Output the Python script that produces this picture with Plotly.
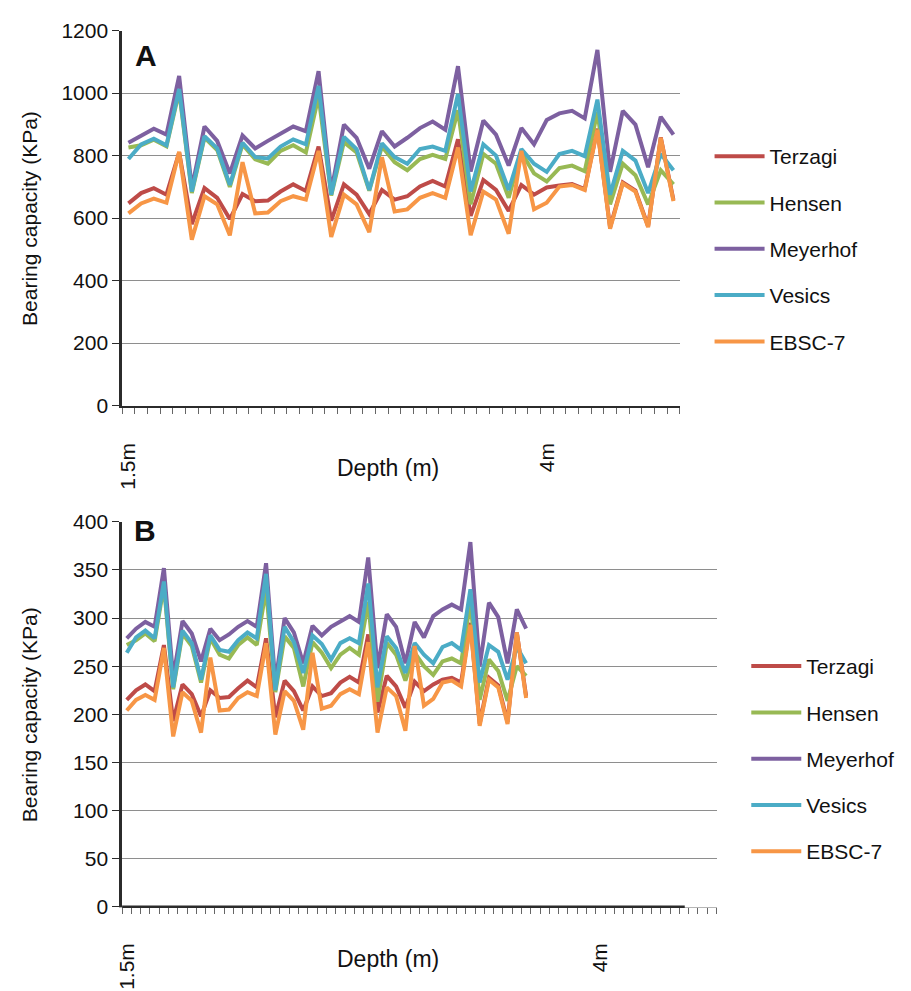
import plotly.graph_objects as go

W, H = 911, 991

# ---- series definitions -------------------------------------------------
series_names = ["Terzagi", "Hensen", "Meyerhof", "Vesics", "EBSC-7"]
series_colors = ["#BE4B48", "#98B954", "#7D60A0", "#4BACC6", "#F79646"]

# ---- panel A : bearing capacity (KPa) ------------------------------------
a_terzagi = [647, 680, 696, 675, 810, 581, 696, 665, 597, 677, 654, 656, 685, 708, 687,
             829, 592, 708, 675, 613, 690, 659, 670, 701, 719, 701, 852, 607, 722, 690,
             623, 706, 675, 698, 704, 709, 693, 886, 570, 714, 688, 574, 858, 658]
a_hensen = [826, 833, 851, 830, 1005, 680, 858, 818, 700, 836, 788, 774, 815, 833, 810,
            990, 672, 843, 810, 688, 829, 779, 753, 789, 802, 789, 945, 644, 805, 774,
            665, 810, 743, 717, 760, 768, 750, 940, 644, 774, 737, 644, 753, 708]
a_meyerhof = [841, 864, 886, 867, 1055, 696, 893, 847, 743, 864, 823, 847, 870, 893, 878,
              1070, 686, 899, 857, 758, 878, 829, 857, 888, 909, 883, 1086, 749, 912, 867,
              768, 888, 836, 914, 935, 943, 919, 1138, 748, 943, 899, 763, 924, 867]
a_vesics = [789, 836, 854, 833, 1013, 685, 862, 823, 706, 841, 795, 791, 829, 852, 836,
            1023, 675, 860, 821, 690, 839, 795, 774, 821, 829, 815, 997, 685, 836, 800,
            690, 821, 774, 748, 805, 815, 798, 979, 675, 815, 784, 680, 805, 753]
a_ebsc7 = [615, 647, 662, 649, 812, 531, 670, 644, 545, 779, 615, 618, 654, 670, 659,
           815, 540, 675, 644, 555, 795, 621, 628, 665, 680, 665, 826, 545, 685, 659,
           550, 815, 628, 649, 701, 706, 690, 883, 566, 711, 685, 571, 857, 654]

# ---- panel B : bearing capacity (KPa) ------------------------------------
b_terzagi = [215, 225, 231, 224, 272, 193, 231, 221, 198, 225, 217, 218, 227, 235, 228,
             279, 197, 235, 224, 204, 229, 219, 222, 233, 239, 233, 283, 202, 240, 229,
             207, 234, 224, 231, 236, 238, 233, 295, 190, 238, 230, 192, 285, 219]
b_hensen = [272, 277, 284, 276, 334, 226, 284, 271, 233, 279, 262, 258, 272, 280, 272,
            330, 223, 281, 269, 229, 275, 264, 248, 262, 269, 262, 317, 213, 274, 262,
            235, 264, 250, 241, 255, 258, 253, 318, 215, 257, 245, 214, 250, 240]
b_meyerhof = [279, 289, 296, 291, 352, 238, 297, 284, 255, 289, 277, 283, 291, 297, 291,
              357, 233, 300, 285, 253, 292, 282, 291, 297, 302, 296, 363, 248, 304, 291,
              253, 296, 280, 302, 309, 314, 309, 379, 250, 316, 301, 253, 309, 289]
b_vesics = [264, 280, 287, 279, 338, 228, 287, 274, 236, 282, 267, 265, 277, 285, 279,
            346, 225, 291, 275, 243, 282, 273, 257, 274, 279, 274, 336, 228, 281, 269,
            243, 274, 262, 253, 270, 274, 267, 330, 233, 272, 265, 236, 270, 253]
b_ebsc7 = [204, 215, 220, 215, 269, 177, 223, 214, 181, 259, 204, 205, 217, 223, 219,
           274, 179, 224, 214, 184, 264, 206, 209, 221, 226, 221, 275, 181, 228, 219,
           183, 271, 209, 216, 233, 235, 229, 293, 188, 236, 228, 190, 285, 217]

# ---- depth categories (only two of them carry a printed label) ----------
depth_labels_a = [""] * 44
depth_labels_a[0] = "1.5m"
depth_labels_a[33] = "4m"

depth_labels_b = [""] * 64
depth_labels_b[0] = "1.5m"
depth_labels_b[51] = "4m"

y_ticks_a = [0, 200, 400, 600, 800, 1000, 1200]
y_ticks_b = [0, 50, 100, 150, 200, 250, 300, 350, 400]

panel_a = [a_terzagi, a_hensen, a_meyerhof, a_vesics, a_ebsc7]
panel_b = [b_terzagi, b_hensen, b_meyerhof, b_vesics, b_ebsc7]

FONT = "Liberation Sans, Arial, sans-serif"
GRID = "#8E8E8E"
AXIS = "#2B2B2B"
TXT = "#111111"


def px_x(p):
    return p / W


def px_y(p):
    return 1 - p / H


fig = go.Figure()

for name, color, ys in zip(series_names, series_colors, panel_a):
    fig.add_trace(go.Scatter(
        x=list(range(len(ys))), y=ys, mode="lines", name=name,
        line=dict(color=color, width=4), xaxis="x", yaxis="y",
        legend="legend", legendgroup="a" + name))

for name, color, ys in zip(series_names, series_colors, panel_b):
    fig.add_trace(go.Scatter(
        x=list(range(len(ys))), y=ys, mode="lines", name=name,
        line=dict(color=color, width=4), xaxis="x2", yaxis="y2",
        legend="legend2", legendgroup="b" + name))


def x_axis(labels, domain, anchor, linecolor, linewidth):
    tv = [i for i, t in enumerate(labels) if t]
    return dict(
        domain=domain, anchor=anchor, range=[-0.5, len(labels) - 0.5],
        tickmode="array", tickvals=tv, ticktext=[labels[i] for i in tv],
        tickangle=-90, ticks="", ticklabelstandoff=27,
        tickfont=dict(family=FONT, size=21, color=TXT),
        showgrid=False, zeroline=False,
        showline=True, linecolor=linecolor, linewidth=linewidth,
        minor=dict(tick0=-0.5, dtick=1, ticks="outside", ticklen=6,
                   tickcolor="#666", tickwidth=1, showgrid=False),
        fixedrange=True)


def y_axis(ticks, domain, anchor):
    return dict(
        domain=domain, anchor=anchor, range=[ticks[0], ticks[-1]],
        tickmode="array", tickvals=ticks,
        ticks="outside", ticklen=7, tickcolor=AXIS, tickwidth=1,
        tickfont=dict(family=FONT, size=21, color=TXT),
        showgrid=True, gridcolor=GRID, gridwidth=1,
        zeroline=False, showline=True, linecolor=AXIS, linewidth=2.5,
        fixedrange=True)


legend_style = dict(xanchor="left", yanchor="top", tracegroupgap=16, itemwidth=50,
                    bgcolor="rgba(0,0,0,0)", font=dict(family=FONT, size=21, color=TXT))

fig.update_layout(
    width=W, height=H, margin=dict(l=0, r=0, t=0, b=0),
    paper_bgcolor="white", plot_bgcolor="white",
    font=dict(family=FONT, size=21, color=TXT),
    xaxis=x_axis(depth_labels_a, [px_x(116), px_x(678)], "y", AXIS, 2),
    yaxis=y_axis(y_ticks_a, [px_y(403), px_y(19)], "x"),
    xaxis2=x_axis(depth_labels_b, [px_x(116), px_x(715)], "y2", "#B5B5B5", 1),
    yaxis2=y_axis(y_ticks_b, [px_y(916), px_y(522)], "x2"),
    legend=dict(x=px_x(708), y=px_y(127), **legend_style),
    legend2=dict(x=px_x(745), y=px_y(649), **legend_style),
    showlegend=True,
)

# heavy baseline under the plotted span of panel B
fig.add_shape(type="line", xref="paper", yref="paper",
              x0=px_x(116), x1=px_x(683), y0=px_y(916), y1=px_y(916),
              line=dict(color=AXIS, width=2.5))


def note(text, x, y, size, angle=0):
    return dict(text=text, x=px_x(x), y=px_y(y), xref="paper", yref="paper",
                xanchor="center", yanchor="middle", textangle=angle,
                showarrow=False, font=dict(family=FONT, size=size, color=TXT))


fig.update_layout(annotations=[
    note("<b>A</b>", 140, 45, 30),
    note("<b>B</b>", 139, 531, 30),
    note("Bearing capacity (KPa)", 22, 211, 21, -90),
    note("Bearing capacity (KPa)", 22, 719, 21, -90),
    note("Depth (m)", 384, 467, 23),
    note("Depth (m)", 384, 970, 23),
])

fig.write_html("out.html")
